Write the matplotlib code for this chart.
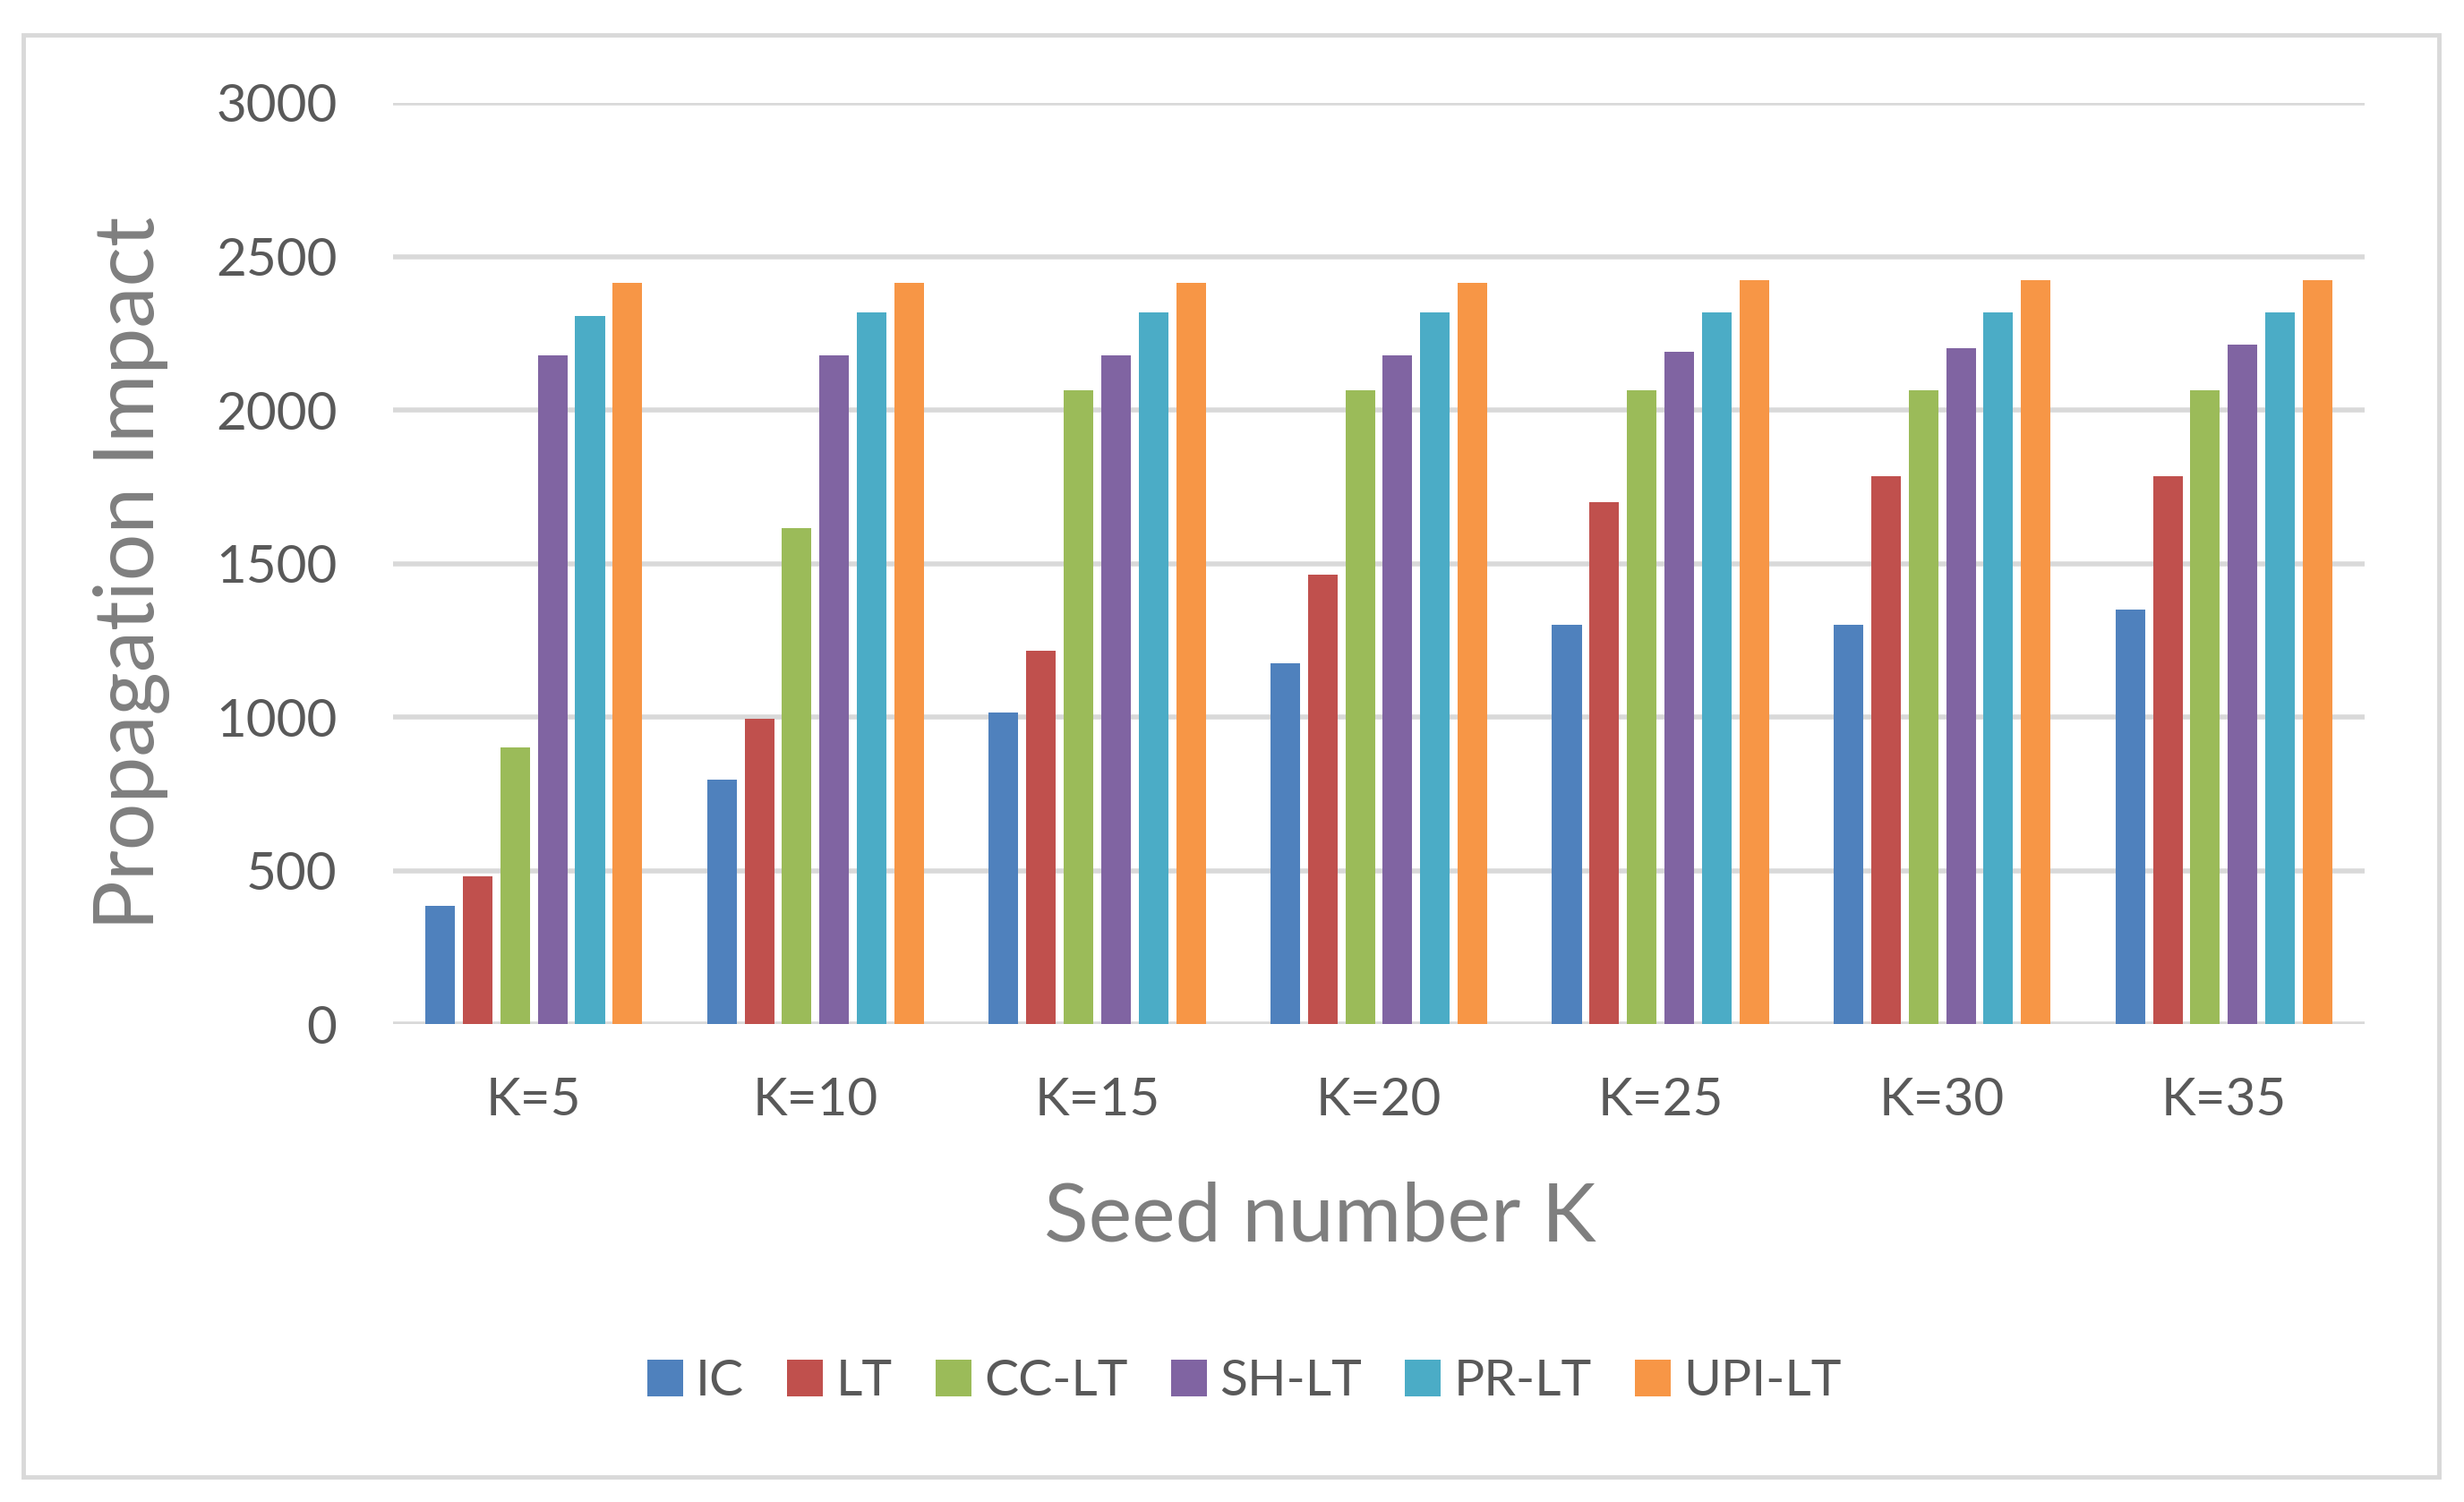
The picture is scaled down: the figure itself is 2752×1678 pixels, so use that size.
import matplotlib.pyplot as plt
from matplotlib.patches import Rectangle
import numpy as np

# data
categories = ["K=5", "K=10", "K=15", "K=20", "K=25", "K=30", "K=35"]
ic = [386, 796, 1015, 1175, 1300, 1300, 1351]
lt = [482, 995, 1215, 1465, 1699, 1784, 1784]
cc_lt = [901, 1615, 2065, 2065, 2065, 2065, 2065]
sh_lt = [2179, 2179, 2179, 2179, 2190, 2201, 2212]
pr_lt = [2306, 2317, 2317, 2317, 2317, 2317, 2317]
upi_lt = [2413, 2413, 2413, 2413, 2422, 2422, 2422]

series_names = ["IC", "LT", "CC-LT", "SH-LT", "PR-LT", "UPI-LT"]
series = [ic, lt, cc_lt, sh_lt, pr_lt, upi_lt]
colors = ["#4F81BD", "#C0504D", "#9BBB59", "#8064A2", "#4BACC6", "#F79646"]

plt.rcParams['font.family'] = ['Lato', 'DejaVu Sans']

fig = plt.figure(figsize=(27.52, 16.78), dpi=100)
ax = fig.add_axes([0.1595, 0.318, 0.8002, 0.6135])

x = np.arange(len(categories))
pitch = 0.133
width = 0.105
for i, (name, vals, col) in enumerate(zip(series_names, series, colors)):
    ax.bar(x + (i - 2.5) * pitch, vals, width, color=col, label=name, zorder=3)

ax.set_xlim(-0.5, len(categories) - 0.5)
ax.set_ylim(0, 3000)
ax.set_yticks(range(0, 3001, 500))
ax.set_xticks(x)
ax.set_xticklabels(categories)
ax.yaxis.grid(True, color="#d9d9d9", linewidth=4, zorder=0)
ax.set_axisbelow(True)
for s in ax.spines.values():
    s.set_visible(False)
ax.tick_params(axis='both', length=0, labelsize=42, colors="#595959")
ax.tick_params(axis='y', pad=45)
ax.tick_params(axis='x', pad=42)

ax.set_ylabel("Propagation Impact", fontsize=67, color="#7f7f7f", va='center')
ax.yaxis.set_label_coords(-0.1326, 0.49)
ax.set_xlabel("Seed number K", fontsize=66, color="#7f7f7f", va='center')
ax.xaxis.set_label_coords(0.470, -0.21)

leg = fig.legend(loc='center', bbox_to_anchor=(0.505, 0.08), ncol=6, frameon=False,
                 fontsize=41, handlelength=0.7, handleheight=0.72,
                 handletextpad=0.25, columnspacing=0.85, labelcolor="#595959")

# outer chart border
fig.patches.append(Rectangle((26 / 2752, 1 - 1650 / 1678), (2724 - 26) / 2752,
                             (1650 - 39) / 1678, transform=fig.transFigure,
                             fill=False, edgecolor="#d9d9d9", linewidth=3.5))

fig.savefig("out.png", dpi=100)
